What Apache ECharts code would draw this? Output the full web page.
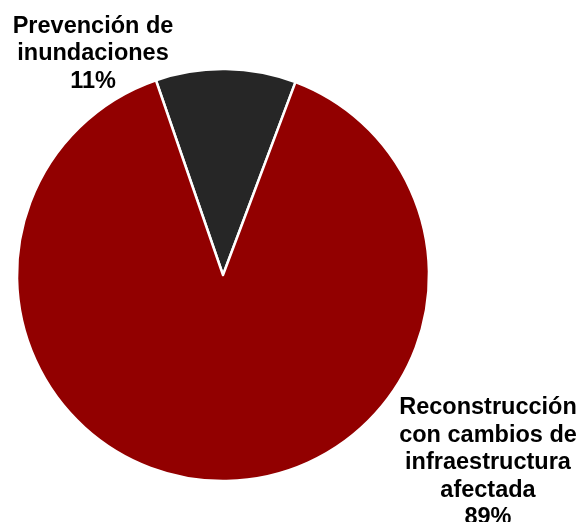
<!DOCTYPE html>
<html>
<head>
<meta charset="utf-8">
<style>
  html, body { margin: 0; padding: 0; background: #ffffff; }
  #chart { width: 584px; height: 522px; }
</style>
<script src="https://cdn.jsdelivr.net/npm/echarts@6/dist/echarts.min.js"></script>
</head>
<body>
<div id="chart"></div>
<script>
// Share of spending by purpose
const categories = [
  'Prevención de\ninundaciones',
  'Reconstrucción\ncon cambios de\ninfraestructura\nafectada'
];
const shares = [11, 89];
const sliceColors = ['#262626', '#920000'];

// Label anchor points (centre of each text block)
const labelAnchors = [
  [93, 54],
  [488, 463]
];

const chart = echarts.init(document.getElementById('chart'), null, { renderer: 'canvas' });

chart.setOption({
  animation: false,
  backgroundColor: '#ffffff',
  series: [{
    type: 'pie',
    center: [223, 275],
    radius: [0, 206],
    startAngle: 109,
    clockwise: true,
    avoidLabelOverlap: false,
    data: categories.map((name, i) => ({
      name: name,
      value: shares[i],
      itemStyle: { color: sliceColors[i] }
    })),
    itemStyle: {
      borderColor: '#ffffff',
      borderWidth: 2.5
    },
    label: {
      show: true,
      position: 'outside',
      formatter: p => p.name + '\n' + Math.round(p.percent) + '%',
      fontFamily: 'Liberation Sans, Arial, sans-serif',
      fontWeight: 'bold',
      fontSize: 23.5,
      lineHeight: 27.5,
      color: '#000000',
      align: 'center'
    },
    labelLine: { show: false },
    labelLayout: function (params) {
      const a = labelAnchors[params.dataIndex];
      return { x: a[0], y: a[1], align: 'center', verticalAlign: 'middle' };
    },
    emphasis: { disabled: true }
  }]
});
</script>
</body>
</html>
